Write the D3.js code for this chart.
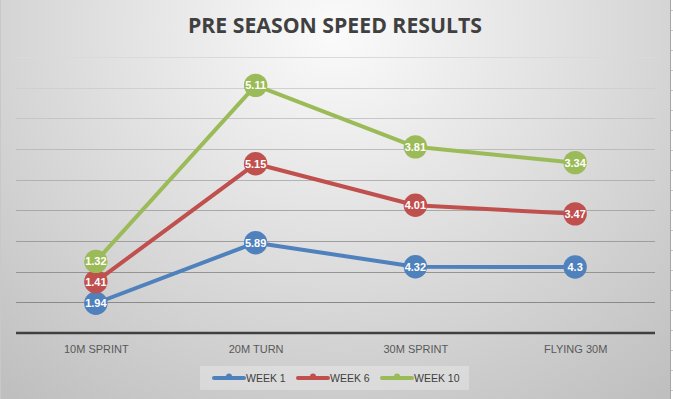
<!DOCTYPE html>
<html>
<head>
<meta charset="utf-8">
<script src="https://cdn.jsdelivr.net/npm/d3@7/dist/d3.min.js"></script>
<style>
  html, body { margin: 0; padding: 0; background: #fff; }
  svg { display: block; }
</style>
</head>
<body>
<svg width="673" height="399"></svg>
<script>
// chart data
const categories = ['10M SPRINT', '20M TURN', '30M SPRINT', 'FLYING 30M'];
const seriesNames = ['WEEK 1', 'WEEK 6', 'WEEK 10'];
const week1 = [1.94, 5.89, 4.32, 4.3];
const week6 = [1.41, 5.15, 4.01, 3.47];
const week10 = [1.32, 5.11, 3.81, 3.34];
const yTicks = [2, 4, 6, 8, 10, 12, 14, 16, 18];
const colors = ['#4f81bd', '#c0504d', '#9bbb59'];

const svg = d3.select('svg');
const W = 673, H = 399;

// background gradient
const defs = svg.append('defs');
const grad = defs.append('radialGradient')
  .attr('id', 'bg')
  .attr('gradientUnits', 'userSpaceOnUse')
  .attr('cx', 336).attr('cy', 30).attr('r', 520)
  .attr('gradientTransform', 'translate(336,30) scale(1,0.9) translate(-336,-30)');
grad.append('stop').attr('offset', '0%').attr('stop-color', '#fbfbfb');
grad.append('stop').attr('offset', '100%').attr('stop-color', '#bfbfbf');

svg.append('rect')
  .attr('x', 0).attr('y', 0).attr('width', 671).attr('height', H)
  .attr('fill', 'url(#bg)');
svg.append('line')
  .attr('x1', 670.5).attr('x2', 670.5).attr('y1', 0).attr('y2', H)
  .attr('stroke', '#a6a6a6');
svg.append('line')
  .attr('x1', 0.5).attr('x2', 0.5).attr('y1', 0).attr('y2', H)
  .attr('stroke', '#c8c8c8');
for (let y = 10; y < H; y += 20) {
  svg.append('line')
    .attr('x1', 671).attr('x2', 673).attr('y1', y + 0.5).attr('y2', y + 0.5)
    .attr('stroke', '#d0d0d0');
}

// title
svg.append('text')
  .attr('x', 335).attr('y', 33)
  .attr('text-anchor', 'middle')
  .attr('font-family', 'Open Sans')
  .attr('font-weight', 700)
  .attr('font-size', 21)
  .attr('textLength', 294)
  .attr('lengthAdjust', 'spacingAndGlyphs')
  .attr('fill', '#404040')
  .text('PRE SEASON SPEED RESULTS');

// scales
const x = d3.scalePoint()
  .domain(categories)
  .range([16, 655])
  .padding(0.5);
const y = d3.scaleLinear()
  .domain([0, 18])
  .range([333, 57]);

// gridlines, darker toward the bottom
const gridColor = d3.scaleLinear().domain([18, 2]).range(['#dadada', '#8a8a8a']);
svg.append('g')
  .selectAll('line')
  .data(yTicks)
  .join('line')
  .attr('x1', 16).attr('x2', 655)
  .attr('y1', d => Math.round(y(d)) + 0.5)
  .attr('y2', d => Math.round(y(d)) + 0.5)
  .attr('stroke', d => gridColor(d))
  .attr('stroke-width', 1);

// category axis
const xAxis = svg.append('g')
  .attr('transform', `translate(0,${y(0)})`)
  .call(d3.axisBottom(x).tickSize(0).tickPadding(12));
xAxis.select('.domain')
  .attr('d', 'M16,0H655')
  .attr('stroke', '#404040')
  .attr('stroke-width', 2.5);
xAxis.selectAll('text')
  .attr('font-family', 'Liberation Sans')
  .attr('font-size', 11)
  .attr('fill', '#595959');

// stacked lines
const rows = categories.map((c, i) => ({
  cat: c, 'WEEK 1': week1[i], 'WEEK 6': week6[i], 'WEEK 10': week10[i]
}));
const stacked = d3.stack().keys(seriesNames)(rows);

const line = d3.line()
  .x(d => x(d.data.cat))
  .y(d => y(d[1]));

const seriesG = svg.append('g')
  .selectAll('g')
  .data(stacked)
  .join('g');

seriesG.append('path')
  .attr('d', s => line(s))
  .attr('fill', 'none')
  .attr('stroke', (s, i) => colors[i])
  .attr('stroke-width', 4)
  .attr('stroke-linejoin', 'round');

seriesG.each(function(s, si) {
  const g = d3.select(this);
  g.selectAll('circle')
    .data(s)
    .join('circle')
    .attr('cx', d => x(d.data.cat))
    .attr('cy', d => y(d[1]))
    .attr('r', 11.7)
    .attr('fill', colors[si]);
  g.selectAll('text')
    .data(s)
    .join('text')
    .attr('x', d => x(d.data.cat))
    .attr('y', d => y(d[1]) + 4)
    .attr('text-anchor', 'middle')
    .attr('font-family', 'Liberation Sans')
    .attr('font-weight', 700)
    .attr('font-size', 11)
    .attr('fill', '#fff')
    .text(d => d.data[s.key]);
});

// legend
const legend = svg.append('g');
legend.append('rect')
  .attr('x', 200).attr('y', 366).attr('width', 269).attr('height', 24)
  .attr('fill', '#fff').attr('fill-opacity', 0.28);
const legendX = [214, 298, 382];
const items = legend.selectAll('g.item')
  .data(seriesNames)
  .join('g')
  .attr('class', 'item')
  .attr('transform', (d, i) => `translate(${legendX[i]},378)`);
items.append('line')
  .attr('x1', 0).attr('x2', 30).attr('y1', 0).attr('y2', 0)
  .attr('stroke', (d, i) => colors[i])
  .attr('stroke-width', 4)
  .attr('stroke-linecap', 'round');
items.append('circle')
  .attr('cx', 15).attr('cy', -1.5).attr('r', 3)
  .attr('fill', (d, i) => colors[i]);
items.append('text')
  .attr('x', 32).attr('y', 3.5)
  .attr('font-family', 'Liberation Sans')
  .attr('font-size', 10.5)
  .attr('fill', '#404040')
  .text(d => d);
</script>
</body>
</html>
